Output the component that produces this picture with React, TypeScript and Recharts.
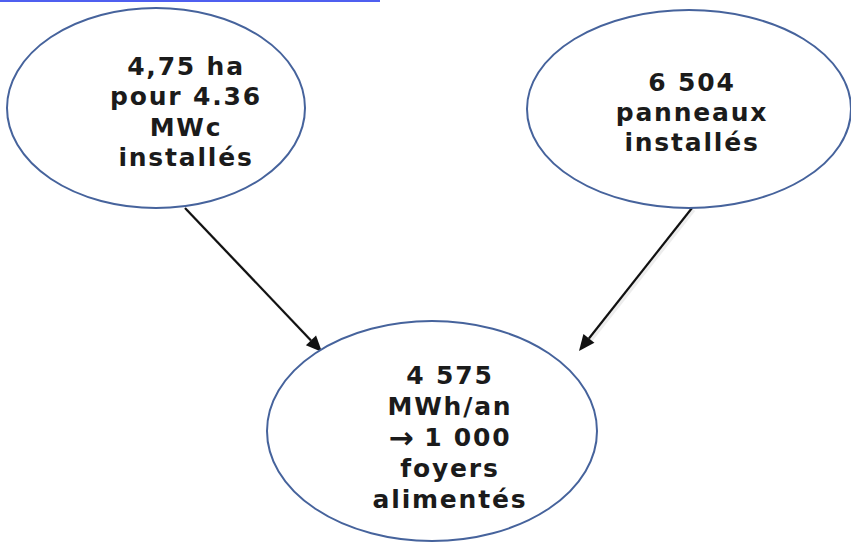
import { ScatterChart, Scatter, XAxis, YAxis, ReferenceLine } from "recharts";

const W = 851;
const H = 546;

// node labels
const leftLabel = ["4,75 ha", "pour 4.36", "MWc", "installés"];
const rightLabel = ["6 504", "panneaux", "installés"];
const bottomLabel = ["4 575", "MWh/an", "→ 1 000", "foyers", "alimentés"];

// nodes, in a pixel-sized coordinate space (x: 0..851, y: 0..546 top-down)
const nodes = [
  { x: 156, y: 108, rx: 149, ry: 100, tx: 186, ty: 66, lh: 30.5, lines: leftLabel },
  { x: 689, y: 109, rx: 162, ry: 99, tx: 692, ty: 82, lh: 30, lines: rightLabel },
  { x: 432, y: 431, rx: 165, ry: 110, tx: 450, ty: 375, lh: 31, lines: bottomLabel },
];

// arrows: from -> to
const arrows = [
  { from: { x: 185, y: 208 }, to: { x: 322, y: 352 } },
  { from: { x: 692, y: 208 }, to: { x: 579, y: 351 } },
];

const renderLine = (l: string) => {
  if (l.startsWith("→")) {
    return (
      <>
        <tspan fontSize={30} letterSpacing={0}>→</tspan>
        <tspan>{l.slice(1)}</tspan>
      </>
    );
  }
  return l;
};

const NodeShape = (props: any) => {
  const { cx, cy, payload } = props;
  const dx = payload.tx - payload.x;
  const dy = payload.ty - payload.y;
  return (
    <g>
      <ellipse cx={cx} cy={cy} rx={payload.rx} ry={payload.ry} fill="#fff" stroke="#46639c" strokeWidth={2} />
      {payload.lines.map((l: string, i: number) => (
        <text
          key={i}
          x={cx + dx}
          y={cy + dy + i * payload.lh}
          dominantBaseline="central"
          textAnchor="middle"
          fontFamily="'DejaVu Sans', sans-serif"
          fontWeight="bold"
          fontSize={25}
          letterSpacing={1.8}
          fill="#1b1b1b"
        >
          {renderLine(l)}
        </text>
      ))}
    </g>
  );
};

const ArrowShape = (props: any) => {
  const { x1, y1, x2, y2 } = props;
  const ang = Math.atan2(y2 - y1, x2 - x1);
  const len = 16;
  const hw = 7;
  const bx = x2 - len * Math.cos(ang);
  const by = y2 - len * Math.sin(ang);
  const px = -Math.sin(ang) * hw;
  const py = Math.cos(ang) * hw;
  return (
    <g>
      <line x1={x1 + 2} y1={y1 + 2} x2={bx + 2} y2={by + 2} stroke="#ccc" strokeWidth={3} opacity={0.35} />
      <line x1={x1} y1={y1} x2={bx} y2={by} stroke="#111" strokeWidth={2.2} />
      <polygon points={`${x2},${y2} ${bx + px},${by + py} ${bx - px},${by - py}`} fill="#111" />
    </g>
  );
};

export default function App() {
  return (
    <div style={{ position: "absolute", left: 0, top: 0, background: "#fff" }}>
      <ScatterChart width={W} height={H} margin={{ top: 0, right: 0, bottom: 0, left: 0 }}>
        <XAxis type="number" dataKey="x" domain={[0, W]} hide />
        <YAxis type="number" dataKey="y" domain={[0, H]} reversed hide />
        <ReferenceLine
          segment={[{ x: 0, y: 1 }, { x: 380, y: 1 }]}
          stroke="#4f5ff0"
          strokeWidth={2}
          ifOverflow="visible"
        />
        <Scatter data={nodes} shape={NodeShape} isAnimationActive={false} />
        {arrows.map((a, i) => (
          <ReferenceLine key={i} segment={[a.from, a.to]} shape={ArrowShape} ifOverflow="visible" />
        ))}
      </ScatterChart>
    </div>
  );
}
